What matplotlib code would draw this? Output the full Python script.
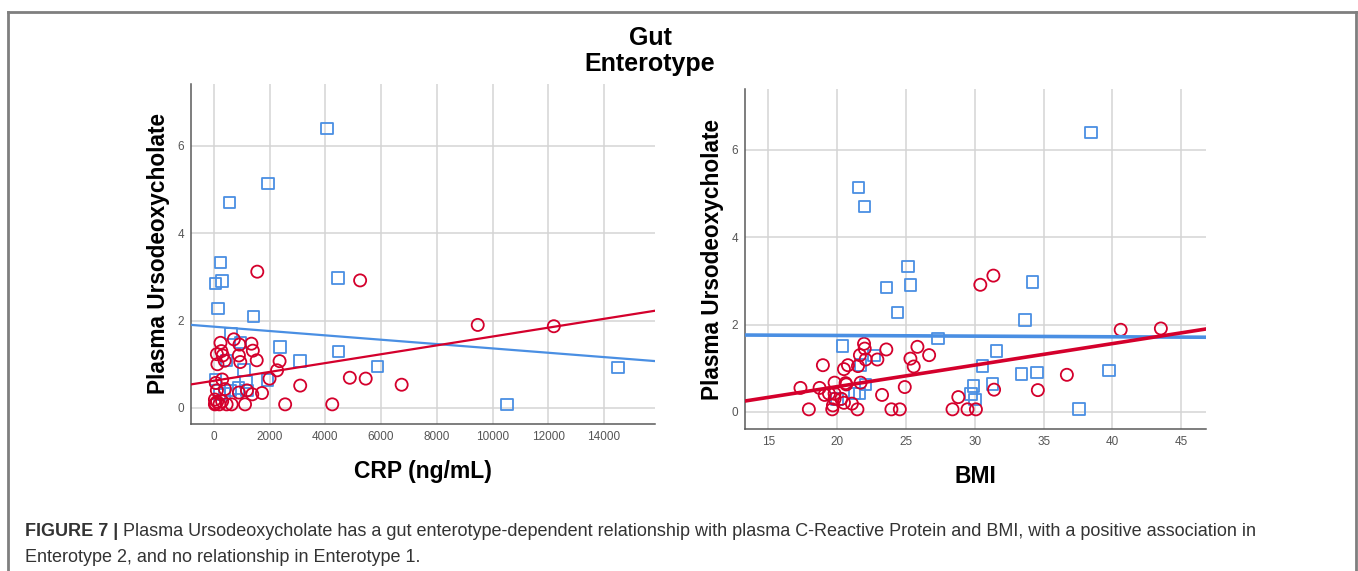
"""Plasma ursodeoxycholate vs CRP and BMI, split by gut enterotype."""

import matplotlib

matplotlib.use("Agg")
import matplotlib.pyplot as plt
from matplotlib.lines import Line2D

plt.rcParams["font.family"] = ["Liberation Sans", "DejaVu Sans"]

BLUE = "#4a8fe3"
RED = "#d4002c"
GRID = "#d4d4d4"
TICK = "#555555"

# --- CRP panel -------------------------------------------------------------
crp_e1 = [4060, 1950, 570, 240, 300, 60, 150, 4450, 1420, 620, 950, 2370, 4470,
          460, 3100, 1090, 5880, 14500, 10520, 60, 1160, 1920, 880, 600, 380,
          1190, 200]
uda_crp_e1 = [6.40, 5.14, 4.70, 3.33, 2.91, 2.85, 2.28, 2.97, 2.09, 1.70, 1.50,
              1.39, 1.29, 1.09, 1.07, 0.87, 0.95, 0.92, 0.08, 0.65, 0.59, 0.64,
              0.45, 0.40, 0.33, 0.40, 0.30]

crp_e2 = [1560, 5250, 9470, 12200, 240, 720, 920, 1350, 1400, 270, 110, 320, 900,
          390, 130, 950, 1540, 2360, 2270, 2000, 300, 4880, 5450, 6740, 3100, 70,
          110, 400, 1190, 900, 1380, 1730, 40, 120, 40, 200, 460, 640, 1120, 2560,
          4250, 60, 300]
uda_crp_e2 = [3.12, 2.92, 1.90, 1.87, 1.49, 1.57, 1.45, 1.47, 1.31, 1.30, 1.23,
              1.20, 1.20, 1.08, 1.00, 1.05, 1.09, 1.07, 0.86, 0.67, 0.65, 0.69,
              0.67, 0.53, 0.51, 0.57, 0.40, 0.43, 0.40, 0.35, 0.31, 0.34, 0.19,
              0.14, 0.08, 0.08, 0.08, 0.08, 0.08, 0.08, 0.08, 0.10, 0.15]

# fit lines: (intercept, slope)
crp_fit_e1 = (1.86, -4.98e-5)
crp_fit_e2 = (0.62, 1.014e-4)

# --- BMI panel -------------------------------------------------------------
bmi_e1 = [38.44, 21.56, 22.00, 25.13, 25.32, 23.57, 24.38, 34.19, 33.65, 27.31,
          20.37, 31.57, 22.68, 21.70, 30.55, 33.41, 34.53, 39.75, 37.57, 31.27,
          29.89, 29.72, 30.03, 22.04, 21.27, 21.63, 20.0]
uda_bmi_e1 = [6.40, 5.14, 4.70, 3.33, 2.91, 2.85, 2.28, 2.97, 2.10, 1.68, 1.51,
              1.39, 1.29, 1.07, 1.05, 0.87, 0.90, 0.95, 0.07, 0.64, 0.59, 0.41,
              0.28, 0.63, 0.42, 0.42, 0.30]

bmi_e2 = [31.35, 30.40, 40.60, 43.52, 21.95, 22.00, 23.57, 25.83, 21.65, 22.92,
          22.07, 26.68, 25.32, 25.56, 20.78, 20.49, 21.51, 18.96, 36.69, 24.91,
          34.58, 31.40, 17.33, 18.72, 19.81, 20.61, 20.66, 21.70, 19.09, 19.40,
          19.81, 20.30, 19.69, 20.49, 21.07, 23.26, 28.80, 17.94, 19.64, 21.47,
          23.94, 24.55, 28.38, 29.47, 30.08, 19.81]
uda_bmi_e2 = [3.12, 2.91, 1.88, 1.91, 1.56, 1.45, 1.43, 1.49, 1.30, 1.20, 1.20,
              1.30, 1.22, 1.04, 1.07, 0.98, 1.05, 1.07, 0.85, 0.57, 0.50, 0.51,
              0.55, 0.55, 0.67, 0.66, 0.63, 0.67, 0.39, 0.42, 0.42, 0.30, 0.15,
              0.21, 0.19, 0.39, 0.34, 0.06, 0.06, 0.06, 0.06, 0.06, 0.06, 0.06,
              0.06, 0.30]

bmi_fit_e1 = (1.78, -0.0015)
bmi_fit_e2 = (-0.404, 0.0492)

crp_ticks = list(range(0, 14001, 2000))
bmi_ticks = [15, 20, 25, 30, 35, 40, 45]
y_ticks = [0, 2, 4, 6]

caption_bold = "FIGURE 7 | "
caption_1 = ("Plasma Ursodeoxycholate has a gut enterotype-dependent relationship "
             "with plasma C-Reactive Protein and BMI, with a positive association in")
caption_2 = "Enterotype 2, and no relationship in Enterotype 1."


def style_axes(ax, xticks):
    ax.set_xticks(xticks)
    ax.set_yticks(y_ticks)
    ax.grid(True, color=GRID, linewidth=1.1)
    ax.set_axisbelow(True)
    for side in ("top", "right"):
        ax.spines[side].set_visible(False)
    for side in ("left", "bottom"):
        ax.spines[side].set_color("#5a5a5a")
        ax.spines[side].set_linewidth(1.1)
    ax.tick_params(length=0, labelsize=8.5, labelcolor=TICK, pad=5)
    ax.set_ylabel("Plasma Ursodeoxycholate", fontsize=16.3, fontweight="bold",
                  labelpad=5)


def draw_panel(ax, x1, y1, x2, y2, fit1, fit2, lw):
    ax.scatter(x1, y1, marker="s", s=68, facecolors="none", edgecolors=BLUE,
               linewidths=1.3, zorder=3)
    ax.scatter(x2, y2, marker="o", s=76, facecolors="none", edgecolors=RED,
               linewidths=1.3, zorder=3)
    ax.axline((0, fit1[0]), slope=fit1[1], color=BLUE, linewidth=lw, zorder=4)
    ax.axline((0, fit2[0]), slope=fit2[1], color=RED, linewidth=lw, zorder=4)


fig = plt.figure(figsize=(13.58, 5.71), dpi=100)
W, H = 1358, 571

ax1 = fig.add_axes([191 / W, 1 - 424 / H, (655 - 191) / W, (424 - 84) / H])
draw_panel(ax1, crp_e1, uda_crp_e1, crp_e2, uda_crp_e2, crp_fit_e1, crp_fit_e2, 1.6)
style_axes(ax1, crp_ticks)
ax1.set_xlim(-818, 15830)
ax1.set_ylim(-0.37, 7.42)
ax1.set_xlabel("CRP (ng/mL)", fontsize=16.5, fontweight="bold", labelpad=12)

ax2 = fig.add_axes([745 / W, 1 - 429 / H, (1206 - 745) / W, (429 - 89) / H])
draw_panel(ax2, bmi_e1, uda_bmi_e1, bmi_e2, uda_bmi_e2, bmi_fit_e1, bmi_fit_e2, 2.6)
style_axes(ax2, bmi_ticks)
ax2.set_xlim(13.3, 46.8)
ax2.set_ylim(-0.39, 7.39)
ax2.set_xlabel("BMI", fontsize=16.5, fontweight="bold", labelpad=12)

fig.text(650 / W, 1 - 51 / H, "Gut\nEnterotype", ha="center", va="center",
         fontsize=18, fontweight="bold", linespacing=1.15)

# caption: bold lead-in, regular text continues right after it
cap_color = "#333333"
bold = fig.text(25 / W, 1 - 531 / H, caption_bold, ha="left", va="center",
                fontsize=13, fontweight="bold", color=cap_color)
ax1.annotate(caption_1, xy=(1, 0), xycoords=bold, ha="left", va="bottom",
             fontsize=13, color=cap_color, annotation_clip=False)
fig.text(25 / W, 1 - 557 / H, caption_2, ha="left", va="center", fontsize=13,
         color=cap_color)

# outer frame
frame = dict(color="#7f7f7f", linewidth=2, transform=fig.transFigure)
fig.add_artist(Line2D([8 / W, 1356 / W], [1 - 12 / H, 1 - 12 / H], **frame))
fig.add_artist(Line2D([8 / W, 8 / W], [1 - 12 / H, 0], **frame))
fig.add_artist(Line2D([1356 / W, 1356 / W], [1 - 12 / H, 0], **frame))

fig.savefig("out.png", dpi=100)
